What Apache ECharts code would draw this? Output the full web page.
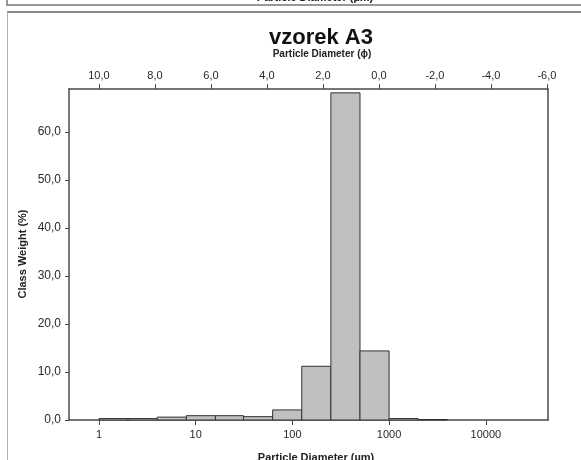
<!DOCTYPE html>
<html>
<head>
<meta charset="utf-8">
<script src="https://cdn.jsdelivr.net/npm/echarts@6/dist/echarts.min.js"></script>
<style>html,body{margin:0;padding:0;background:#fff;}#c{width:581px;height:460px;}</style>
</head>
<body>
<div id="c"></div>
<script>
// ---- data ----
const binEdgesUm = [1, 2, 4, 8, 16, 31.25, 62.5, 125, 250, 500, 1000, 2000, 4000];
const classWeight = [0.3, 0.3, 0.6, 0.9, 0.9, 0.7, 2.1, 11.2, 68.2, 14.4, 0.3, 0.1];
const umTickLabels = [1, 10, 100, 1000, 10000];
const phiTickLabels = [10, 8, 6, 4, 2, 0, -2, -4, -6];
const weightTickLabels = [0, 10, 20, 30, 40, 50, 60];
const titleText = 'vzorek A3';
const topAxisName = 'Particle Diameter (\u03D5)';
const bottomAxisName = 'Particle Diameter (\u00B5m)';
const yAxisName = 'Class Weight (%)';

const bars = classWeight.map((w, i) => [binEdgesUm[i], binEdgesUm[i + 1], w]);
const fmt = v => Number(v).toFixed(1).replace('.', ',');
const FONT = '"Liberation Sans", Arial, sans-serif';
const axisCol = '#4a4a4a';

const chart = echarts.init(document.getElementById('c'), null, {renderer: 'canvas'});
chart.setOption({
  animation: false,
  backgroundColor: '#fff',
  grid: {left: 69, right: 33, top: 89, bottom: 40, containLabel: false},
  xAxis: [
    {
      type: 'log', logBase: 10, min: 0.49, max: 43950, position: 'bottom',
      axisLine: {show: true, onZero: false, lineStyle: {color: axisCol, width: 1.5}},
      axisTick: {show: true, length: 5, inside: false, customValues: umTickLabels, lineStyle: {color: axisCol}},
      axisLabel: {customValues: umTickLabels, color: '#2a2a2a', fontSize: 11, fontFamily: FONT, margin: 9,
        formatter: v => String(Math.round(v))},
      splitLine: {show: false}, minorTick: {show: false}
    },
    {
      type: 'value', position: 'top', inverse: true, min: -6.04, max: 11.07,
      axisLine: {show: true, onZero: false, lineStyle: {color: axisCol, width: 1.5}},
      axisTick: {show: true, length: 5, customValues: phiTickLabels, lineStyle: {color: axisCol}},
      axisLabel: {customValues: phiTickLabels, color: '#2a2a2a', fontSize: 11, fontFamily: FONT, margin: 8,
        formatter: v => fmt(v)},
      splitLine: {show: false}
    }
  ],
  yAxis: [
    {
      type: 'value', min: 0, max: 69, position: 'left',
      axisLine: {show: true, onZero: false, lineStyle: {color: axisCol, width: 1.5}},
      axisTick: {show: true, length: 4, customValues: weightTickLabels, lineStyle: {color: axisCol}},
      axisLabel: {customValues: weightTickLabels, color: '#2a2a2a', fontSize: 12, fontFamily: FONT, margin: 8,
        formatter: v => fmt(v)},
      splitLine: {show: false}
    },
    {
      type: 'value', min: 0, max: 69, position: 'right',
      axisLine: {show: true, onZero: false, lineStyle: {color: axisCol, width: 1.5}},
      axisTick: {show: false}, axisLabel: {show: false}, splitLine: {show: false}
    }
  ],
  series: [{
    type: 'custom',
    xAxisIndex: 0, yAxisIndex: 0,
    data: bars,
    encode: {x: [0, 1], y: 2},
    renderItem: function (params, api) {
      const p0 = api.coord([api.value(0), api.value(2)]);
      const p1 = api.coord([api.value(1), 0]);
      return {
        type: 'rect',
        shape: {x: p0[0], y: p0[1], width: p1[0] - p0[0], height: p1[1] - p0[1]},
        style: {fill: '#c0c0c0', stroke: '#333', lineWidth: 1}
      };
    }
  }],
  graphic: [
    // previous panel remnants
    {type: 'rect', shape: {x: 7, y: -10, width: 590, height: 15}, style: {fill: 'none', stroke: '#777', lineWidth: 1.5}, silent: true},
    {type: 'text', x: 315, y: 3, style: {text: bottomAxisName, font: 'bold 11px ' + FONT, fill: '#222', textAlign: 'center', textVerticalAlign: 'bottom'}},
    // current panel frame
    {type: 'line', shape: {x1: 7, y1: 12, x2: 581, y2: 12}, style: {stroke: '#888', lineWidth: 2}},
    {type: 'line', shape: {x1: 7.5, y1: 12, x2: 7.5, y2: 460}, style: {stroke: '#b0b0b0', lineWidth: 1}},
    // titles
    {type: 'text', x: 321, y: 38, style: {text: titleText, font: 'bold 22px ' + FONT, fill: '#111', textAlign: 'center', textVerticalAlign: 'middle'}},
    {type: 'text', x: 322, y: 54, style: {text: topAxisName, font: 'bold 10px ' + FONT, fill: '#222', textAlign: 'center', textVerticalAlign: 'middle'}},
    {type: 'text', x: 316, y: 458, style: {text: bottomAxisName, font: 'bold 11px ' + FONT, fill: '#222', textAlign: 'center', textVerticalAlign: 'middle'}},
    {type: 'text', x: 23, y: 254, rotation: Math.PI / 2, style: {text: yAxisName, font: 'bold 11px ' + FONT, fill: '#222', textAlign: 'center', textVerticalAlign: 'middle'}}
  ]
});
</script>
</body>
</html>
